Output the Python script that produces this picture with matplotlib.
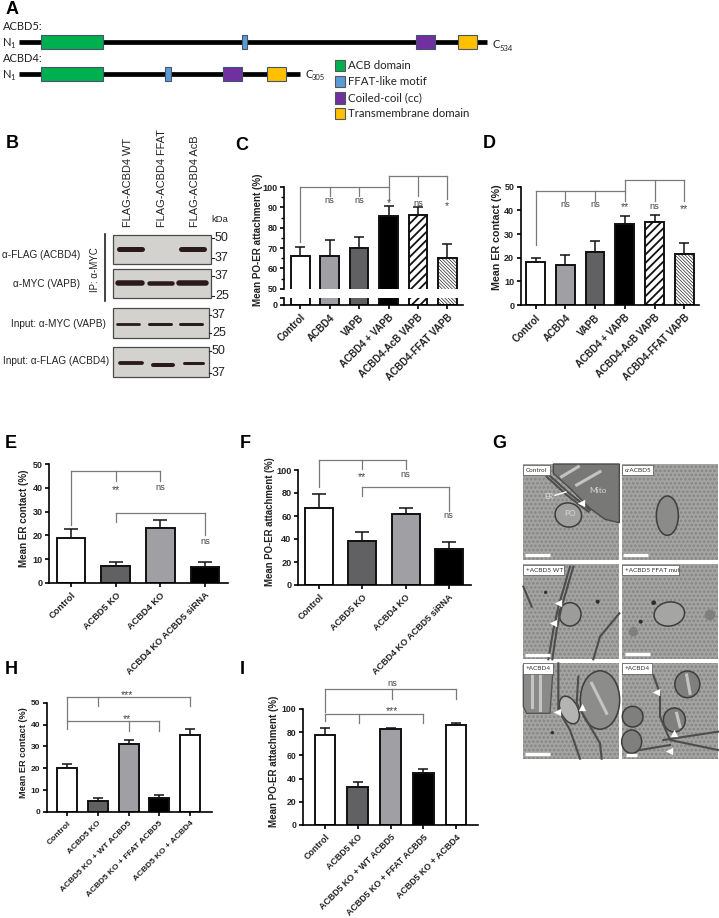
import matplotlib
matplotlib.use('Agg')
import matplotlib.pyplot as plt
from matplotlib.patches import Rectangle, Ellipse, Polygon

W, H = 719, 918
plt.rcParams['font.family'] = ['Liberation Sans', 'DejaVu Sans']
plt.rcParams['hatch.linewidth'] = 1.3

# bar values (value, top of the error bar)
labels_c = ['Control', 'ACBD4', 'VAPB', 'ACBD4 + VAPB', 'ACBD4-AcB VAPB', 'ACBD4-FFAT VAPB']
values_c = [66, 66, 70, 85.5, 86, 65]
tops_c = [70.7, 74, 75.5, 90.7, 90.3, 72]
values_d = [18, 16.8, 22.5, 34.3, 35, 21.5]
tops_d = [19.7, 21, 27, 37.6, 38.2, 26.2]

labels_ef = ['Control', 'ACBD5 KO', 'ACBD4 KO', 'ACBD4 KO ACBD5 siRNA']
values_e = [19, 7.2, 23.2, 6.6]
tops_e = [22.5, 8.8, 26.6, 9]
values_f = [67, 38, 62, 31]
tops_f = [79.5, 46, 67, 37.5]

labels_hi = ['Control', 'ACBD5 KO', 'ACBD5 KO + WT ACBD5', 'ACBD5 KO + FFAT ACBD5', 'ACBD5 KO + ACBD4']
values_h = [20, 5.2, 31, 6.6, 35.2]
tops_h = [21.8, 6.4, 32.8, 7.7, 38]
values_i = [78, 33, 82.5, 44.5, 86]
tops_i = [84, 37.5, 84, 48, 88]

WHITE, LIGHT, DARK, BLACK = 'white', '#a09fa4', '#616163', 'black'
colors_c = [WHITE, LIGHT, DARK, BLACK, WHITE, WHITE]
hatches_c = [None, None, None, None, '////', '\\\\\\\\\\\\\\\\\\\\']
colors_ef = [WHITE, DARK, LIGHT, BLACK]
colors_hi = [WHITE, DARK, LIGHT, BLACK, WHITE]

# brackets: (y of the bar, [(x, y of the leg end), ...])
brackets_c = [(100, [(0, 73), (1, 95.5), (2, 95.5), (3, 100)]), (105.4, [(3, 94), (4, 95.7), (5, 94)])]
notes_c = [(1, 93.5, 'ns'), (2, 93.5, 'ns'), (3, 93.5, '*'), (4, 92, 'ns'), (5, 92, '*')]
brackets_d = [(48, [(0, 25.3), (1, 44), (2, 44), (3, 48)]), (52.7, [(3, 44), (4, 44), (5, 44)])]
notes_d = [(1, 42.5, 'ns'), (2, 42.5, 'ns'), (3, 42.5, '**'), (4, 41.5, 'ns'), (5, 41.5, '**')]
brackets_e = [(47, [(0, 24.4), (1, 43), (2, 43)]), (29.5, [(1, 25.5), (3, 20)])]
notes_e = [(1, 40, '**'), (2, 40, 'ns'), (3, 17.5, 'ns')]
brackets_f = [(108.4, [(0, 85), (1, 100.5), (2, 100.5)]), (85, [(1, 77), (3, 64)])]
notes_f = [(1, 96, '**'), (2, 96.5, 'ns'), (3, 60.3, 'ns')]
brackets_h = [(52.6, [(0, 42), (1, 48.5), (4, 48.5)]), (41.5, [(0, 37.8), (2, 37.2), (3, 37.2)])]
notes_h = [(1.95, 54.7, '***'), (1.95, 43.7, '**')]
brackets_i = [(117, [(0, 97.7), (2.05, 109), (4, 109)]), (96, [(0, 89.4), (1.05, 88.2), (3, 88.2)])]
notes_i = [(2.05, 121.8, 'ns'), (2.05, 100.3, '***')]

fig = plt.figure(figsize=(W / 100, H / 100), dpi=100, facecolor='white')


def px_axes(left, top, right, bottom):
    return fig.add_axes([left / W, 1 - bottom / H, (right - left) / W, (bottom - top) / H])


def draw_bars(ax, values, tops, colors, hatches, capsize):
    for i, v in enumerate(values):
        hatch = hatches[i] if hatches else None
        # the dense hatch is drawn with finer lines, it reads as grey in the figure
        thin = hatch is not None and hatch.startswith('\\')
        with plt.rc_context({'hatch.linewidth': 0.45 if thin else 1.3}):
            ax.bar(i, v, width=bar_w, facecolor=colors[i], edgecolor='#111111', linewidth=1.4,
                   hatch=hatch, zorder=2)
    err = [t - v for t, v in zip(tops, values)]
    ax.errorbar(range(len(values)), values, yerr=[[0] * len(values), err], fmt='none',
                ecolor='#111111', elinewidth=1.1, capsize=capsize, capthick=1.1, zorder=1)


def style_axis(ax, labels=None, xsize=7, ysize=6.5):
    ax.spines['top'].set_visible(False)
    ax.spines['right'].set_visible(False)
    ax.spines['left'].set_linewidth(1.2)
    ax.spines['bottom'].set_linewidth(1.2)
    ax.patch.set_alpha(0)
    ax.tick_params(axis='y', length=3.2, width=1.2, labelsize=ysize, pad=1.5)
    ax.tick_params(axis='x', length=3, width=1.2, labelsize=xsize, pad=2.5)
    for t in ax.get_yticklabels():
        t.set_fontweight('bold')
        t.set_color('#222222')
    if labels:
        ax.set_xticks(range(len(labels)))
        ax.set_xticklabels(labels, rotation=45, ha='right', rotation_mode='anchor',
                           fontweight='bold', color='#222222')


def draw_brackets(ax, brackets, notes):
    for y, legs in brackets:
        xs = [p[0] for p in legs]
        ax.plot([min(xs), max(xs)], [y, y], color='#7a7a7a', lw=0.9, clip_on=False, zorder=3)
        for x, y2 in legs:
            ax.plot([x, x], [y, y2], color='#7a7a7a', lw=0.9, clip_on=False, zorder=3)
    for x, y, s in notes:
        if s.startswith('*'):
            # the star glyph sits high in its box
            ax.annotate(s, (x, y), xytext=(0, -1.8), textcoords='offset points', ha='center', va='center',
                        fontsize=7.6, color='#444444', annotation_clip=False)
        else:
            ax.text(x, y, s, ha='center', va='center', fontsize=6.6, color='#444444', clip_on=False)


def bar_panel(left, top, right, bottom, c0, step, ymax, yticks, values, tops, labels, colors,
              brackets, notes, capsize, xsize, ysize, hatches=None):
    ax = px_axes(left, top, right, bottom)
    draw_bars(ax, values, tops, colors, hatches, capsize)
    ax.set_xlim((left - c0) / step, (right - c0) / step)
    ax.set_ylim(0, ymax)
    ax.set_yticks(yticks)
    style_axis(ax, labels, xsize, ysize)
    draw_brackets(ax, brackets, notes)
    return ax


# panel C has a broken y axis
bar_w = 18.7 / 29.4
ax_up = px_axes(284.3, 187, 463, 288.7)
draw_bars(ax_up, values_c, tops_c, colors_c, hatches_c, 3.6)
ax_up.set_xlim((284.3 - 300.3) / 29.4, (463 - 300.3) / 29.4)
ax_up.set_ylim(50, 100)
ax_up.set_yticks([50, 60, 70, 80, 90, 100])
ax_up.set_yticks(list(range(55, 100, 10)), minor=True)
style_axis(ax_up)
ax_up.tick_params(axis='y', which='minor', length=2, width=1)
ax_up.set_xticks([])
ax_up.spines['bottom'].set_visible(False)
draw_brackets(ax_up, brackets_c, notes_c)

ax_low = px_axes(284.3, 297.7, 463, 304.7)
draw_bars(ax_low, values_c, tops_c, colors_c, hatches_c, 3.6)
ax_low.set_xlim((284.3 - 300.3) / 29.4, (463 - 300.3) / 29.4)
ax_low.set_ylim(0, 3.44)
ax_low.set_yticks([0, 3.44])
ax_low.set_yticklabels(['0', ''])
style_axis(ax_low, labels_c)

bar_w = 18.7 / 29.7
bar_panel(520.7, 186.7, 699.3, 305, 535.7, 29.7, 50, [0, 10, 20, 30, 40, 50], values_d, tops_d,
          labels_c, colors_c, brackets_d, notes_d, 3.6, 7, 6.5, hatches_c)
bar_w = 28.7 / 44.7
bar_panel(49, 464, 227.7, 583, 71, 44.7, 50, [0, 10, 20, 30, 40, 50], values_e, tops_e,
          labels_ef, colors_ef, brackets_e, notes_e, 5.2, 6.7, 6.5)
bar_w = 28 / 43.1
bar_panel(298, 470, 471, 585, 319.3, 43.1, 100, [0, 20, 40, 60, 80, 100], values_f, tops_f,
          labels_ef, colors_ef, brackets_f, notes_f, 5.2, 6.5, 6.6)
bar_w = 20 / 30.75
bar_panel(46.7, 702.7, 211.7, 812, 67, 30.75, 50, [0, 10, 20, 30, 40, 50], values_h, tops_h,
          labels_hi, colors_hi, brackets_h, notes_h, 3.8, 6, 6)
bar_w = 20.7 / 32.75
bar_panel(302.7, 709, 478.3, 825, 325, 32.75, 100, [0, 20, 40, 60, 80, 100], values_i, tops_i,
          labels_hi, colors_hi, brackets_i, notes_i, 3.8, 6.4, 6.2)

# overlay in image pixels for the schematic, blots and labels
ov = fig.add_axes([0, 0, 1, 1], zorder=5)
ov.set_xlim(0, W)
ov.set_ylim(H, 0)
ov.axis('off')
ov.patch.set_alpha(0)

ylabels = [(257.7, 240, 'Mean PO-ER attachment (%)', 7.1), (496.7, 237, 'Mean ER contact (%)', 7.7),
           (24.3, 518, 'Mean ER contact (%)', 7.1), (270, 521.7, 'Mean PO-ER attachment (%)', 6.9),
           (24, 752.7, 'Mean ER contact (%)', 6.6), (274, 761.7, 'Mean PO-ER attachment (%)', 7)]
for x, y, s, size in ylabels:
    ov.text(x, y, s, rotation=90, ha='center', va='center', fontsize=size, fontweight='bold', color='#222222')

panel_letters = [('A', 6, 10), ('B', 6, 143), ('C', 235, 145), ('D', 483, 144), ('E', 5, 443),
                 ('F', 240, 443), ('G', 492, 443), ('H', 5, 670), ('I', 240, 670)]
for s, x, y in panel_letters:
    ov.text(x, y, s, ha='left', va='center', fontsize=13, fontweight='bold', color='black')

# panel A
GREEN, BLUE, PURPLE, YELLOW = '#00b050', '#5b9bd5', '#7030a0', '#ffc000'
domains_5 = [(40.7, 103, GREEN), (241.7, 247.3, BLUE), (416, 434.7, PURPLE), (458.3, 477.3, YELLOW)]
domains_4 = [(40.7, 103, GREEN), (165, 170.7, BLUE), (223, 241.7, PURPLE), (266.7, 285.7, YELLOW)]
legend_a = [(65.5, GREEN, 'ACB domain'), (81.7, BLUE, 'FFAT-like motif'),
            (98, PURPLE, 'Coiled-coil (cc)'), (113.3, YELLOW, 'Transmembrane domain')]
A_FONT = ['Lato', 'DejaVu Sans']

for y, x1, doms in [(41.7, 487, domains_5), (73.7, 300, domains_4)]:
    ov.plot([19.3, x1], [y, y], color='black', lw=3.4, solid_capstyle='butt')
    for a, b, c in doms:
        ov.add_patch(Rectangle((a, y - 7.2), b - a, 14.4, facecolor=c, edgecolor='#44546a', lw=0.8, zorder=3))
ov.text(2.5, 27, 'ACBD5:', family=A_FONT, fontsize=8, va='center', color='#222222')
ov.text(2.5, 59, 'ACBD4:', family=A_FONT, fontsize=8, va='center', color='#222222')
for y in (42, 74):
    ov.text(2.5, y, 'N', family=A_FONT, fontsize=8, va='center', color='#222222')
    ov.text(10, y + 3.5, '1', family=A_FONT, fontsize=5.5, va='center', color='#222222')
ov.text(492.5, 45, 'C', family=A_FONT, fontsize=8, va='center', color='#222222')
ov.text(499.5, 48.5, '534', family=A_FONT, fontsize=5.5, va='center', color='#222222')
ov.text(305, 74, 'C', family=A_FONT, fontsize=8, va='center', color='#222222')
ov.text(312, 78, '305', family=A_FONT, fontsize=5.5, va='center', color='#222222')
for y, c, s in legend_a:
    ov.add_patch(Rectangle((334.7, y - 5.8), 10.3, 11.6, facecolor=c, edgecolor='#555555', lw=0.8))
    ov.text(348, y, s, family=A_FONT, fontsize=8.3, va='center', color='#222222')

# panel B blots: (x0, x1, y0, y1), then bands (x0, x1, y, thickness in px)
blots = [
    ((113.3, 211, 235.3, 264.3), [(119, 142, 248.7, 5), (181, 204, 248.7, 5)]),
    ((113.3, 211, 269.3, 298.3), [(118, 142, 283.3, 5.5), (149, 172, 283.3, 4.5), (179, 206, 282.5, 5.5)]),
    ((113.3, 208.5, 307.7, 338.3), [(117, 139, 323.7, 2.8), (149, 171, 323.7, 3), (180, 202, 323.5, 3)]),
    ((113, 209, 346.7, 377.3), [(120, 142, 363, 3.8), (153, 173, 364.5, 4), (184, 203, 362.7, 3)]),
]
for (x0, x1, y0, y1), bands in blots:
    ov.add_patch(Rectangle((x0, y0), x1 - x0, y1 - y0, facecolor='#d3d2ce', edgecolor='#4a4a4a', lw=0.9))
    for a, b, y, t in bands:
        ov.plot([a, b], [y, y], color='#2a191d', lw=t * 0.72, solid_capstyle='round')
ov.plot([105, 105], [234.3, 300.7], color='#222222', lw=1.2)
ov.text(95, 270, 'IP: α-MYC', rotation=90, ha='center', va='center', fontsize=7, color='#222222')
for x, s in [(128.3, 'FLAG-ACBD4 WT'), (162.3, 'FLAG-ACBD4 FFAT'), (195, 'FLAG-ACBD4 AcB')]:
    ov.text(x, 226.7, s, rotation=90, ha='center', va='bottom', fontsize=7.9, color='#222222')
ov.text(220, 220, 'kDa', ha='center', va='center', fontsize=6.8, color='#222222')
for x, y, s in [(80, 255, 'α-FLAG (ACBD4)'), (80.3, 284.3, 'α-MYC (VAPB)'),
                (106, 324.3, 'Input: α-MYC (VAPB)'), (109.3, 361.3, 'Input: α-FLAG (ACBD4)')]:
    ov.text(x, y, s, ha='right', va='center', fontsize=7.2, color='#222222')
kda_marks = [(215, 237.7, '50'), (215, 258.3, '37'), (215, 275.7, '37'), (215, 295.7, '25'),
             (212, 315, '37'), (212, 333, '25'), (212, 350.7, '50'), (212, 373, '37')]
for x, y, s in kda_marks:
    ov.plot([x - 3.5, x - 0.8], [y, y], color='#222222', lw=0.8)
    ov.text(x, y, s, ha='left', va='center', fontsize=9, color='#222222')

# panel G, micrographs sketched in the coordinates of a 3x crop
em = fig.add_axes([490 / W, 1 - 770 / H, 229 / W, 340 / H], zorder=6)
em.set_xlim(0, 687)
em.set_ylim(1020, 0)
em.axis('off')
em.patch.set_alpha(0)

tiles = [
    (99, 102, 388, 390, 'Control', 180), (396, 102, 684, 390, 'crACBD5', 490),
    (99, 402, 388, 688, '+ACBD5 WT', 222), (396, 402, 684, 688, '+ACBD5 FFAT mut', 566),
    (99, 698, 388, 986, '+ACBD4', 188), (396, 698, 684, 986, '+ACBD4', 485),
]
for x0, y0, x1, y1, s, lx in tiles:
    em.add_patch(Rectangle((x0, y0), x1 - x0, y1 - y0, facecolor='#a4a4a2', edgecolor='#858583',
                           hatch='....', lw=0))

dark_mito = [(190, 102), (388, 102), (388, 278), (345, 268), (300, 235), (240, 175), (190, 130)]
em.add_patch(Polygon(dark_mito, closed=True, facecolor='#787876', edgecolor='#4a4a4a', lw=1))
em.add_patch(Polygon([(100, 705), (190, 705), (180, 850), (110, 850), (100, 830)], closed=True,
                     facecolor='#8a8a88', edgecolor='#555555', lw=1))

# organelles: centre x, centre y, width, height, angle, fill
organelles = [
    (235, 255, 80, 72, 15, '#a0a09e'), (532, 257, 66, 118, 0, '#8b8b89'),
    (240, 553, 66, 70, 0, '#9c9c9a'), (538, 552, 92, 72, -10, '#a5a5a3'),
    (330, 810, 118, 175, 0, '#8c8c8a'), (238, 840, 52, 88, -25, '#b4b4b2'),
    (592, 763, 75, 80, 0, '#7f7f7d'), (428, 860, 62, 62, 0, '#7f7f7d'),
    (425, 935, 60, 70, 0, '#7f7f7d'), (553, 870, 66, 72, 0, '#7f7f7d'),
]
for x, y, w, h, ang, c in organelles:
    em.add_patch(Ellipse((x, y), w, h, angle=ang, facecolor=c, edgecolor='#3d3d3d', lw=1.1))

er_lines = [
    [(170, 140), (230, 195), (295, 245)], [(178, 136), (238, 190), (300, 240)],
    [(240, 410), (205, 530), (190, 600), (175, 688)], [(250, 410), (215, 530), (200, 600), (187, 688)],
    [(388, 550), (330, 620), (310, 688)], [(100, 470), (125, 530)],
    [(205, 700), (205, 840), (240, 900), (270, 986)], [(265, 740), (260, 820), (330, 940), (335, 986)],
    [(490, 735), (510, 790), (510, 860), (540, 930), (684, 960)], [(450, 960), (540, 945)],
    [(520, 930), (684, 905)],
]
for line in er_lines:
    em.plot([p[0] for p in line], [p[1] for p in line], color='#4d4d4d', lw=1.5)

# mitochondrial cristae
for line in [[(125, 720), (125, 830)], [(150, 730), (150, 840)], [(305, 760), (350, 850)], [(590, 735), (600, 790)],
             [(560, 850), (570, 890)], [(215, 140), (265, 110)], [(260, 165), (330, 125)]]:
    em.plot([p[0] for p in line], [p[1] for p in line], color='#c4c4c2', lw=2.2)

spots = [(167, 487, 5), (323, 515, 6), (491, 518, 7), (452, 575, 6), (187, 908, 5), (660, 555, 16), (430, 605, 14)]
for x, y, r in spots:
    em.add_patch(Ellipse((x, y), r * 2, r * 2, facecolor='#2d2d2d' if r < 10 else '#7f7f7d', lw=0))

arrows = [(272, 218, '<'), (205, 518, '<'), (190, 578, '<'), (200, 847, '<'), (275, 832, '^'),
          (497, 785, '<'), (553, 910, '^'), (537, 963, '<')]
for x, y, m in arrows:
    em.scatter([x], [y], marker=m, s=28, color='white', linewidths=0, zorder=4)

scale_bars = [(105, 180, 376), (400, 475, 376), (105, 180, 676), (405, 480, 673), (105, 180, 972), (407, 440, 974)]
for a, b, y in scale_bars:
    em.plot([a, b], [y, y], color='white', lw=2.4, solid_capstyle='butt')
em.text(175, 200, 'ER', fontsize=5.5, color='#dddddd', ha='center', va='center', family=A_FONT)
em.text(325, 180, 'Mito', fontsize=6, color='#d8d8d8', ha='center', va='center', family=A_FONT)
em.text(240, 252, 'PO', fontsize=6, color='#dddddd', ha='center', va='center', family=A_FONT)
em.plot([195, 228], [196, 186], color='white', lw=1)

for x0, y0, x1, y1, s, lx in tiles:
    em.add_patch(Rectangle((x0 + 1, y0 + 2), lx - x0 - 1, 31, facecolor='white', edgecolor='#555555', lw=0.5, zorder=5))
    em.text(x0 + 9, y0 + 18, s, fontsize=4.6, color='#333333', va='center', family=A_FONT, zorder=6)

plt.savefig('out.png', dpi=100)
